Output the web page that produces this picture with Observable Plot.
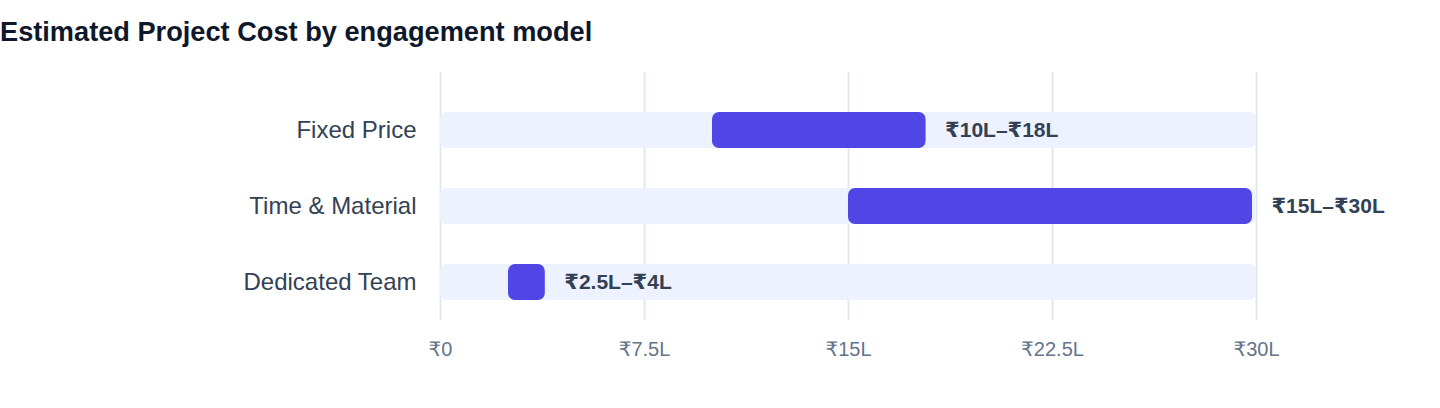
<!DOCTYPE html>
<html>
<head>
<meta charset="utf-8">
<script src="https://cdn.jsdelivr.net/npm/d3@7"></script>
<script src="https://cdn.jsdelivr.net/npm/@observablehq/plot@0.6"></script>
<style>
  html, body { margin: 0; padding: 0; background: #ffffff; }
  body { width: 1440px; height: 408px; overflow: hidden; font-family: "Liberation Sans", Arial, "DejaVu Sans", sans-serif; }
  #title { box-sizing: border-box; height: 60px; padding-top: 16px; line-height: 32px; font-size: 27.2px; font-weight: 700; color: #0f172a; padding-left: 0; }
  #chart svg { display: block; }
</style>
</head>
<body>
<div id="title">Estimated Project Cost by engagement model</div>
<div id="chart"></div>
<script>
const models = ["Fixed Price", "Time & Material", "Dedicated Team"];
const lows = [10, 15, 2.5];
const highs = [18, 30, 4];
const rangeLabels = ["₹10L–₹18L", "₹15L–₹30L", "₹2.5L–₹4L"];
const scaleMax = 30;
const tickValues = [0, 7.5, 15, 22.5, 30];
const tickLabels = ["₹0", "₹7.5L", "₹15L", "₹22.5L", "₹30L"];

const rows = models.map((m, i) => ({model: m, low: lows[i], high: highs[i], label: rangeLabels[i], zero: 0, max: scaleMax}));

const chart = Plot.plot({
  width: 1440,
  height: 348,
  marginLeft: 440,
  marginRight: 184,
  marginTop: 12,
  marginBottom: 88,
  style: {fontFamily: '"Liberation Sans", Arial, "DejaVu Sans", sans-serif', background: "#ffffff"},
  x: {domain: [0, scaleMax], label: null},
  y: {domain: models, paddingInner: 0.5263, paddingOuter: 0.3947, align: 0.667, round: true, label: null},
  marks: [
    Plot.gridX(tickValues, {stroke: "#e2e8f0", strokeOpacity: 1, strokeWidth: 2}),
    Plot.barX(rows, {y: "model", x1: "zero", x2: "max", fill: "#eef2ff", rx: 7}),
    Plot.barX(rows, {y: "model", x1: "low", x2: "high", fill: "#4f46e5", rx: 7, insetRight: 4}),
    Plot.text(rows, {y: "model", x: "high", text: "label", dx: 15, textAnchor: "start", fontWeight: 700, fontSize: 21, fill: "#334155"}),
    Plot.axisX(tickValues, {tickSize: 0, tickPadding: 21, fontSize: 20, fill: "#64748b", tickFormat: d => tickLabels[tickValues.indexOf(d)], label: null}),
    Plot.axisY({tickSize: 0, tickPadding: 24, fontSize: 24, fill: "#334155", label: null})
  ]
});
document.getElementById("chart").appendChild(chart);
</script>
</body>
</html>
